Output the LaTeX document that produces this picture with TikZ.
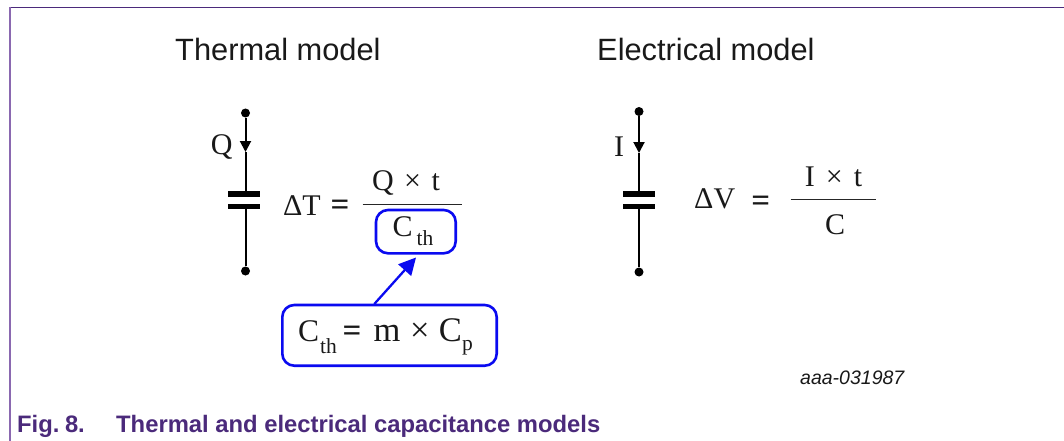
\documentclass[tikz,border=0pt]{standalone}
\usepackage{fontspec}
\setmainfont{Liberation Serif}
\newfontfamily\arialfont{Liberation Sans}
\usetikzlibrary{arrows.meta}
\definecolor{nxppurple}{HTML}{4B2A7B}
\definecolor{nxpleft}{HTML}{8A68B0}
\definecolor{boxblue}{HTML}{0A0AF0}
\tikzset{
  x=1pt,y=-1pt,
  lbl/.style={inner sep=0pt,anchor=base,text=black!90},
  lblw/.style={inner sep=0pt,anchor=base west,text=black!90},
  eqn/.style={lbl,font=\fontsize{30}{30}\selectfont},
  eqnw/.style={lblw,font=\fontsize{30}{30}\selectfont},
  eqbig/.style={lblw,font=\fontsize{34.5}{35}\selectfont},
  eqsign/.style={lbl,font=\bfseries\fontsize{33}{33}\selectfont},
  subs/.style={lblw,font=\fontsize{21.5}{22}\selectfont},
  headline/.style={lblw,font=\arialfont\fontsize{30.8}{31}\selectfont},
  captiontext/.style={inner sep=0pt,anchor=base west,text=nxppurple,font=\arialfont\bfseries\fontsize{23.8}{24}\selectfont},
  terminal/.style={circle,fill=black,inner sep=0pt,minimum size=9pt},
  plate/.style={fill=black,draw=none,inner sep=0pt,minimum width=32pt,minimum height=5.4pt},
  wire/.style={draw=black,line width=2pt},
  flow/.style={wire,-{Triangle[length=11pt,width=11pt]}},
  fracbar/.style={draw=black!85,line width=1.5pt},
  bluebox/.style={draw=boxblue,line width=2.6pt,rounded corners=12pt},
}
\begin{document}
\begin{tikzpicture}
\useasboundingbox (0,0) rectangle (1064,441);
\fill[white] (0,0) rectangle (1064,441);
\draw[nxppurple,line width=1.1pt] (10,7.5) -- (1064,7.5);
\draw[nxpleft,line width=1.4pt] (10,7) -- (10,441);

\node[headline] (tm) at (175,61) {Thermal model};
\node[headline] (em) at (597,61) {Electrical model};

% thermal capacitor
\node[terminal] (t1) at (245.5,113) {};
\node[terminal] (t2) at (245.5,271) {};
\node[plate] (tp1) at (243.5,194) {};
\node[plate] (tp2) at (243.5,206.7) {};
\coordinate (ta) at (245.5,152);
\coordinate (tb) at (245.5,194);
\coordinate (tc) at (245.5,206.7);
\draw[flow] (t1) -- (ta);
\draw[wire] (ta) -- (tb);
\draw[wire] (tc) -- (t2);
\node[eqn] (q) at (221.7,154) {Q};

\node[eqnw] (dt) at (283,215) {ΔT};
\node[eqsign] (teq) at (340,215.5) {=};
\node[eqn] (qt) at (406,190) {Q\hspace{10.5pt}×\hspace{10.5pt}t};
\coordinate (fl) at (362.7,204.3);
\coordinate (fr) at (461.7,204.3);
\draw[fracbar] (fl) -- (fr);
\draw[bluebox] (376,210) rectangle (455.7,253.3);
\node[eqnw] (c1) at (392.5,236.7) {C};
\node[subs] (th1) at (416.5,245.7) {th};

% callout
\draw[bluebox] (282.3,305) rectangle (496.7,365.7);
\coordinate (as) at (374.3,304);
\coordinate (at) at (416,257.5);
\draw[draw=boxblue,line width=2.3pt,-{Triangle[length=17pt,width=17pt]}] (as) -- (at);
\node[eqnw,font=\fontsize{31.5}{32}\selectfont] (c2) at (298,341.7) {C};
\node[subs] (th2) at (320,353) {th};
\node[eqsign] (ceq) at (352,341.7) {=};
\node[eqbig] (mx) at (373.5,341.7) {m\hspace{9.5pt}×\hspace{9.5pt}C};
\node[subs] (p) at (462,350) {p};

% electrical capacitor
\node[terminal] (e1) at (639,111.5) {};
\node[terminal] (e2) at (639,272) {};
\node[plate] (ep1) at (639,194) {};
\node[plate] (ep2) at (639,206.7) {};
\coordinate (ea) at (639,153);
\coordinate (eb) at (639,194);
\coordinate (ec) at (639,206.7);
\draw[flow] (e1) -- (ea);
\draw[wire] (ea) -- (eb);
\draw[wire] (ec) -- (e2);
\node[eqn] (i) at (619,156.7) {I};

\node[eqnw] (dv) at (694,208) {ΔV};
\node[eqsign] (veq) at (760.7,211) {=};
\node[eqn] (it) at (833.5,186.7) {I\hspace{11pt}×\hspace{11pt}t};
\coordinate (gl) at (790.7,199.7);
\coordinate (gr) at (876,199.7);
\draw[fracbar] (gl) -- (gr);
\node[eqn] (c3) at (835,234) {C};

\node[inner sep=0pt,anchor=base west,text=black!90,font=\arialfont\itshape\fontsize{19.5}{20}\selectfont] (id) at (800,384) {aaa-031987};
\node[captiontext] (f8) at (17,432) {Fig.\hspace{5.5pt}8.};
\node[captiontext] (ft) at (116,432) {Thermal and electrical capacitance models};
\end{tikzpicture}
\end{document}
